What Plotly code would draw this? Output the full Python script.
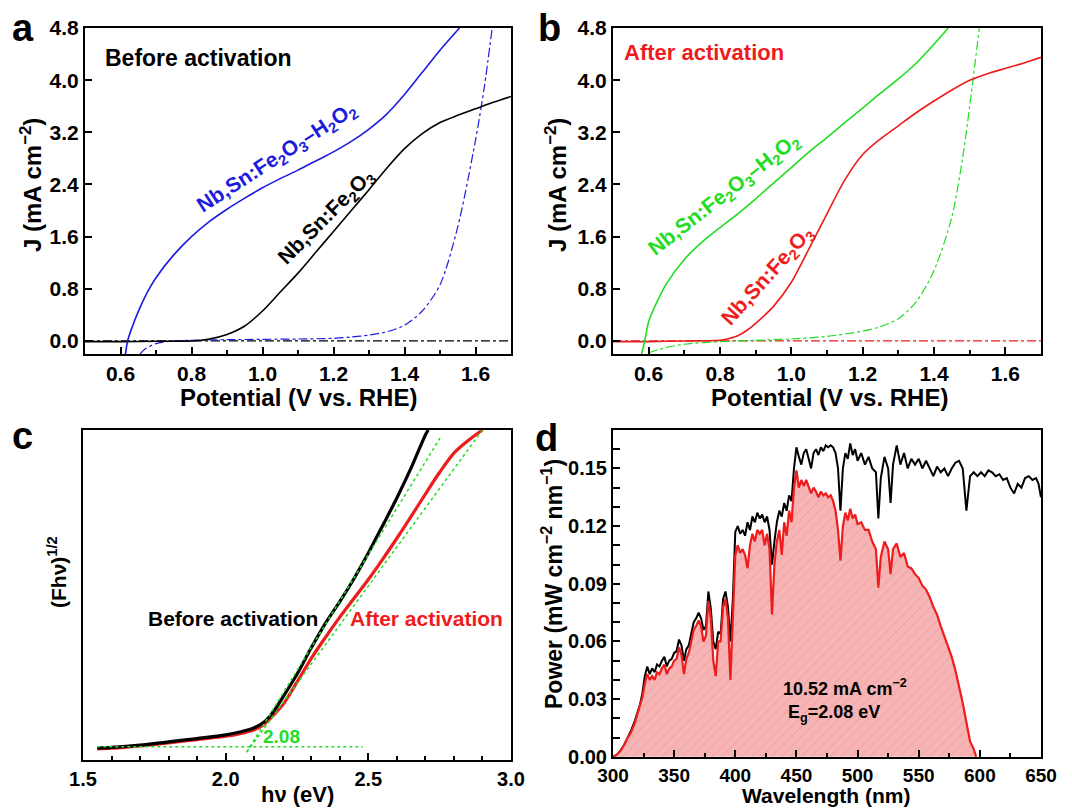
import plotly.graph_objects as go

# ---------------- data ----------------
# (a) J-V before activation
a_fe_x = [0.5, 0.6, 0.7, 0.8, 0.85, 0.9, 0.95, 1.0, 1.05, 1.1, 1.15, 1.2, 1.25, 1.3, 1.35, 1.4, 1.45, 1.5, 1.55, 1.6, 1.65, 1.7]
a_fe_y = [-0.01, -0.01, -0.005, 0.0, 0.03, 0.1, 0.23, 0.46, 0.75, 1.04, 1.36, 1.68, 2.0, 2.32, 2.65, 2.95, 3.18, 3.35, 3.46, 3.56, 3.66, 3.75]
a_h2o2_x = [0.614, 0.62, 0.63, 0.65, 0.675, 0.7, 0.75, 0.8, 0.85, 0.9, 0.95, 1.0, 1.05, 1.1, 1.15, 1.2, 1.25, 1.3, 1.35, 1.4, 1.45, 1.5, 1.555]
a_h2o2_y = [-0.2, 0.0, 0.17, 0.45, 0.74, 0.97, 1.32, 1.6, 1.83, 2.02, 2.19, 2.35, 2.49, 2.62, 2.76, 2.9, 3.06, 3.25, 3.48, 3.78, 4.12, 4.46, 4.8]
a_h2o2_dark_x = [0.655, 0.67, 0.7, 0.75, 0.8, 0.9, 1.0, 1.1, 1.2, 1.25, 1.3, 1.35, 1.4, 1.45, 1.5, 1.55, 1.6, 1.625, 1.647]
a_h2o2_dark_y = [-0.2, -0.12, -0.04, 0.0, 0.01, 0.02, 0.025, 0.03, 0.04, 0.06, 0.09, 0.14, 0.24, 0.46, 0.86, 1.75, 3.08, 3.9, 4.8]
a_fe_dark_x = [0.5, 0.8, 1.1, 1.4, 1.7]
a_fe_dark_y = [0.0, 0.0, 0.0, 0.0, 0.0]

# (b) J-V after activation
b_fe_x = [0.5, 0.6, 0.7, 0.8, 0.82, 0.85, 0.875, 0.9, 0.95, 1.0, 1.05, 1.1, 1.15, 1.2, 1.25, 1.3, 1.35, 1.4, 1.45, 1.5, 1.55, 1.6, 1.65, 1.7]
b_fe_y = [-0.01, -0.01, 0.0, 0.01, 0.03, 0.08, 0.16, 0.27, 0.53, 0.9, 1.42, 1.95, 2.47, 2.86, 3.1, 3.3, 3.5, 3.68, 3.85, 4.0, 4.1, 4.18, 4.26, 4.35]
b_h2o2_x = [0.58, 0.589, 0.6, 0.625, 0.65, 0.7, 0.75, 0.8, 0.85, 0.9, 0.95, 1.0, 1.05, 1.1, 1.15, 1.2, 1.25, 1.3, 1.35, 1.4, 1.44]
b_h2o2_y = [-0.2, 0.0, 0.3, 0.62, 0.88, 1.25, 1.52, 1.74, 1.95, 2.18, 2.42, 2.66, 2.9, 3.12, 3.35, 3.57, 3.8, 4.02, 4.26, 4.55, 4.8]
b_h2o2_dark_x = [0.6, 0.65, 0.7, 0.8, 0.9, 1.0, 1.1, 1.2, 1.25, 1.3, 1.35, 1.4, 1.45, 1.48, 1.5, 1.527]
b_h2o2_dark_y = [-0.18, -0.1, -0.05, -0.01, 0.01, 0.03, 0.07, 0.15, 0.22, 0.34, 0.6, 1.08, 1.9, 2.8, 3.6, 4.8]
b_fe_dark_x = [0.5, 0.8, 1.1, 1.4, 1.7]
b_fe_dark_y = [0.0, 0.0, 0.0, 0.0, 0.0]

# (c) Tauc plot
c_before_x = [1.55, 1.6, 1.7, 1.8, 1.9, 2.0, 2.05, 2.1, 2.13, 2.15, 2.17, 2.2, 2.25, 2.3, 2.35, 2.4, 2.45, 2.5, 2.55, 2.6, 2.65, 2.7, 2.71]
c_before_y = [0.36, 0.38, 0.45, 0.55, 0.65, 0.76, 0.85, 0.98, 1.12, 1.28, 1.5, 1.9, 2.6, 3.4, 4.15, 4.8, 5.5, 6.27, 7.1, 7.94, 8.85, 9.85, 10.0]
c_after_x = [1.55, 1.6, 1.7, 1.8, 1.9, 2.0, 2.05, 2.1, 2.13, 2.15, 2.17, 2.2, 2.25, 2.3, 2.35, 2.4, 2.45, 2.5, 2.55, 2.6, 2.65, 2.7, 2.75, 2.8, 2.85, 2.9]
c_after_y = [0.34, 0.36, 0.43, 0.52, 0.62, 0.72, 0.8, 0.92, 1.05, 1.2, 1.38, 1.67, 2.36, 3.08, 3.72, 4.33, 4.9, 5.47, 6.08, 6.72, 7.38, 8.06, 8.72, 9.3, 9.68, 10.0]
c_base_x = [1.55, 2.48]
c_base_y = [0.4, 0.4]
c_fit1_x = [2.074, 2.751]
c_fit1_y = [0.24, 9.75]
c_fit2_x = [2.074, 2.9]
c_fit2_y = [0.24, 10.0]

# (d) AM 1.5G spectrum and absorbed part
d_sun_wl = [300, 303, 306, 309, 312, 315, 318, 320, 322, 324, 326, 328, 330, 332, 334, 336, 338, 340, 342, 344,
            346, 348, 350, 352, 354, 356, 358, 360, 362, 364, 366, 368, 370, 372, 374, 376, 378, 380, 382, 384,
            386, 388, 390, 392, 394, 396, 398, 400, 402, 404, 406, 408, 410, 412, 414, 416, 418, 420, 422, 424,
            426, 428, 430, 432, 434, 436, 438, 440, 442, 444, 446, 448, 450, 452, 454, 456, 458, 460, 462, 464,
            466, 468, 470, 472, 474, 476, 478, 480, 482, 484, 486, 488, 490, 492, 494, 496, 498, 500, 503, 506,
            509, 512, 515, 517, 519, 522, 525, 527, 529, 532, 535, 538, 541, 544, 547, 550, 553, 556, 559, 562,
            565, 568, 571, 574, 577, 580, 583, 586, 589, 592, 595, 598, 601, 604, 607, 610, 613, 616, 619, 622,
            625, 628, 631, 634, 637, 640, 643, 646, 648, 650]
d_sun_p = [0.000, 0.001, 0.003, 0.006, 0.010, 0.014, 0.019, 0.023, 0.027, 0.033, 0.042, 0.047, 0.043, 0.046, 0.044, 0.048, 0.047, 0.050, 0.052, 0.047,
           0.050, 0.051, 0.054, 0.055, 0.061, 0.058, 0.050, 0.056, 0.058, 0.064, 0.070, 0.072, 0.075, 0.072, 0.066, 0.068, 0.086, 0.077, 0.060, 0.056,
           0.065, 0.064, 0.082, 0.086, 0.078, 0.060, 0.082, 0.117, 0.120, 0.116, 0.118, 0.115, 0.122, 0.118, 0.125, 0.122, 0.127, 0.124, 0.126, 0.122,
           0.125, 0.118, 0.100, 0.112, 0.122, 0.128, 0.125, 0.132, 0.128, 0.136, 0.133, 0.150, 0.161, 0.156, 0.152, 0.158, 0.160, 0.155, 0.150, 0.158,
           0.160, 0.157, 0.161, 0.159, 0.162, 0.161, 0.162, 0.161, 0.158, 0.150, 0.128, 0.150, 0.158, 0.155, 0.163, 0.157, 0.160, 0.154, 0.158, 0.152,
           0.156, 0.150, 0.148, 0.124, 0.145, 0.156, 0.150, 0.132, 0.152, 0.162, 0.152, 0.158, 0.150, 0.155, 0.152, 0.155, 0.150, 0.154, 0.150, 0.146,
           0.151, 0.148, 0.150, 0.146, 0.150, 0.153, 0.154, 0.150, 0.128, 0.146, 0.148, 0.146, 0.148, 0.146, 0.149, 0.148, 0.146, 0.147, 0.144, 0.145,
           0.140, 0.137, 0.142, 0.140, 0.145, 0.146, 0.144, 0.145, 0.142, 0.135]
d_abs_wl = [300, 303, 306, 309, 312, 315, 318, 320, 322, 324, 326, 328, 330, 332, 334, 336, 338, 340, 342, 344,
            346, 348, 350, 352, 354, 356, 358, 360, 362, 364, 366, 368, 370, 372, 374, 376, 378, 380, 382, 384,
            386, 388, 390, 392, 394, 396, 398, 400, 402, 404, 406, 408, 410, 412, 414, 416, 418, 420, 422, 424,
            426, 428, 430, 432, 434, 436, 438, 440, 442, 444, 446, 448, 450, 452, 454, 456, 458, 460, 462, 464,
            466, 468, 470, 472, 474, 476, 478, 480, 482, 484, 486, 488, 490, 492, 494, 496, 498, 500, 503, 506,
            509, 512, 515, 517, 519, 522, 525, 527, 529, 532, 535, 538, 541, 544, 547, 550, 553, 556, 559, 562,
            565, 568, 571, 574, 577, 580, 583, 586, 589, 592, 595, 597]
d_abs_p = [0.000, 0.001, 0.003, 0.006, 0.010, 0.013, 0.018, 0.022, 0.026, 0.031, 0.038, 0.043, 0.040, 0.042, 0.040, 0.044, 0.043, 0.046, 0.048, 0.043,
           0.046, 0.047, 0.050, 0.051, 0.057, 0.053, 0.043, 0.051, 0.054, 0.060, 0.066, 0.068, 0.071, 0.068, 0.060, 0.063, 0.081, 0.072, 0.050, 0.042,
           0.060, 0.060, 0.078, 0.082, 0.072, 0.040, 0.075, 0.105, 0.110, 0.106, 0.108, 0.105, 0.098, 0.110, 0.116, 0.112, 0.118, 0.116, 0.118, 0.110,
           0.116, 0.108, 0.074, 0.100, 0.112, 0.118, 0.105, 0.122, 0.115, 0.128, 0.122, 0.140, 0.149, 0.140, 0.144, 0.141, 0.144, 0.140, 0.137, 0.140,
           0.138, 0.135, 0.138, 0.136, 0.137, 0.135, 0.136, 0.133, 0.128, 0.118, 0.102, 0.120, 0.127, 0.123, 0.129, 0.124, 0.126, 0.121, 0.122, 0.118,
           0.118, 0.112, 0.108, 0.088, 0.104, 0.112, 0.108, 0.095, 0.108, 0.111, 0.104, 0.106, 0.099, 0.098, 0.095, 0.093, 0.089, 0.087, 0.083, 0.078,
           0.074, 0.068, 0.063, 0.058, 0.052, 0.045, 0.037, 0.028, 0.018, 0.008, 0.004, 0.000]

# ---------------- style ----------------
W, H = 1072, 809
FONT = "Liberation Sans, Arial, sans-serif"
BLUE = "#1c1ce0"
GREEN = "#22dd22"
RED = "#ee1c1c"
BLACK = "#000000"
TITLE_SIZE = 24


def dom_x(p0, p1):
    return [p0 / W, p1 / W]


def dom_y(p_top, p_bot):
    return [1 - p_bot / H, 1 - p_top / H]


def axis(domain, rng, anchor, dtick=None, minor=None, labels=True, fmt=None, tick0=None,
         minor_len=4, tick_size=21):
    d = dict(
        domain=domain, range=rng, anchor=anchor,
        showline=True, linecolor="black", linewidth=2, mirror=True,
        showgrid=False, zeroline=False,
        ticks="inside" if labels or minor else "", ticklen=7, tickwidth=2, tickcolor="black",
        showticklabels=labels,
        tickfont=dict(family=FONT, size=tick_size, color="black", weight="bold"),
    )
    if dtick is not None:
        d["dtick"] = dtick
        d["tickmode"] = "linear"
        d["tick0"] = tick0 if tick0 is not None else 0
    if minor is not None:
        d["minor"] = dict(dtick=minor, ticks="inside", ticklen=minor_len, tickwidth=2, tickcolor="black")
    if fmt:
        d["tickformat"] = fmt
    return d


fig = go.Figure()


def line(x, y, xa, ya, color, width=1.5, dash="solid", smooth=True):
    fig.add_trace(go.Scatter(x=x, y=y, xaxis=xa, yaxis=ya, mode="lines",
                             line=dict(color=color, width=width, dash=dash,
                                       shape="spline" if smooth else "linear",
                                       smoothing=0.8),
                             showlegend=False, hoverinfo="skip"))


# panel a
line(a_fe_dark_x, a_fe_dark_y, "x", "y", BLACK, 1.2, "dashdot", smooth=False)
line(a_h2o2_dark_x, a_h2o2_dark_y, "x", "y", BLUE, 1.2, "dashdot")
line(a_fe_x, a_fe_y, "x", "y", BLACK, 1.6)
line(a_h2o2_x, a_h2o2_y, "x", "y", BLUE, 1.6)

# panel b
line(b_fe_dark_x, b_fe_dark_y, "x2", "y2", RED, 1.2, "dashdot", smooth=False)
line(b_h2o2_dark_x, b_h2o2_dark_y, "x2", "y2", GREEN, 1.2, "dashdot")
line(b_fe_x, b_fe_y, "x2", "y2", RED, 1.6)
line(b_h2o2_x, b_h2o2_y, "x2", "y2", GREEN, 1.6)

# panel c
line(c_after_x, c_after_y, "x3", "y3", RED, 3.2)
line(c_before_x, c_before_y, "x3", "y3", BLACK, 3.2)
line(c_base_x, c_base_y, "x3", "y3", GREEN, 1.5, "dot", smooth=False)
line(c_fit1_x, c_fit1_y, "x3", "y3", GREEN, 1.5, "dot", smooth=False)
line(c_fit2_x, c_fit2_y, "x3", "y3", GREEN, 1.5, "dot", smooth=False)

# panel d
line(d_sun_wl, d_sun_p, "x4", "y4", BLACK, 2.0, smooth=False)
fig.add_trace(go.Scatter(x=d_abs_wl, y=d_abs_p, xaxis="x4", yaxis="y4", mode="lines",
                         line=dict(color=RED, width=2.2), fill="tozeroy",
                         fillcolor="#f7b4b4",
                         fillpattern=dict(shape="/", bgcolor="#f7b4b4", fgcolor="#e99a9a",
                                          size=7, solidity=0.12),
                         showlegend=False, hoverinfo="skip"))

layout = dict(
    width=W, height=H,
    margin=dict(l=0, r=0, t=0, b=0),
    paper_bgcolor="white", plot_bgcolor="white",
    font=dict(family=FONT, color="black"),
    template="none",
    xaxis=axis(dom_x(85, 511), [0.5, 1.7], "y", dtick=0.2, minor=0.1, tick0=0.0, fmt=".1f"),
    yaxis=axis(dom_y(28, 354), [-0.2, 4.8001], "x", dtick=0.8, fmt=".1f"),
    xaxis2=axis(dom_x(613, 1041), [0.5, 1.7], "y2", dtick=0.2, minor=0.1, tick0=0.0, fmt=".1f"),
    yaxis2=axis(dom_y(28, 354), [-0.2, 4.8001], "x2", dtick=0.8, fmt=".1f"),
    xaxis3=axis(dom_x(83, 511), [1.4999, 3.0001], "y3", dtick=0.5, minor=0.1, fmt=".1f", tick0=1.5,
                tick_size=20),
    yaxis3=axis(dom_y(430, 760), [0, 10], "x3", labels=False),
    xaxis4=axis(dom_x(613, 1041), [299.99, 650.01], "y4", dtick=50, minor=25, tick0=300, tick_size=19),
    yaxis4=axis(dom_y(430, 757), [-0.0001, 0.17], "x4", dtick=0.03, minor=0.01, fmt=".2f",
                minor_len=7, tick_size=20),
)
fig.update_layout(**layout)

ann = []


def text(x, y, s, size=20, color="black", xref="paper", yref="paper", angle=0, xanchor="center", yanchor="middle"):
    ann.append(dict(x=x, y=y, text=s, xref=xref, yref=yref, showarrow=False, textangle=angle,
                    xanchor=xanchor, yanchor=yanchor,
                    font=dict(family=FONT, size=size, color=color, weight="bold")))


def ptext(px, py, s, **kw):
    text(px / W, 1 - py / H, s, **kw)


# panel letters
ptext(23, 28, "a", size=38)
ptext(549, 28, "b", size=38)
ptext(22, 436, "c", size=38)
ptext(546, 438, "d", size=38)

# axis titles
ptext(298, 397, "Potential (V vs. RHE)", size=TITLE_SIZE)
ptext(829, 397, "Potential (V vs. RHE)", size=TITLE_SIZE)
ptext(31, 185, "J (mA cm<sup>−2</sup>)", size=TITLE_SIZE, angle=-90)
ptext(556, 185, "J (mA cm<sup>−2</sup>)", size=TITLE_SIZE, angle=-90)
ptext(297, 809, "hν (eV)", size=22, yanchor="bottom")
ptext(57, 572, "(Fhν)<sup>1/2</sup>", size=21, angle=-90)
ptext(826, 809, "Wavelength (nm)", size=21, yanchor="bottom")
ptext(552, 584, "Power (mW cm<sup>−2</sup> nm<sup>−1</sup>)", size=23, angle=-90)

# panel a labels
text(0.551, 4.34, "Before activation", size=23, xref="x", yref="y", xanchor="left")
text(1.04, 2.8, "Nb,Sn:Fe<sub>2</sub>O<sub>3</sub>–H<sub>2</sub>O<sub>2</sub>", size=21, color=BLUE,
     xref="x", yref="y", angle=-33)
text(1.18, 1.9, "Nb,Sn:Fe<sub>2</sub>O<sub>3</sub>", size=21, xref="x", yref="y", angle=-45)

# panel b labels
text(0.525, 4.43, "After activation", size=22, color=RED, xref="x2", yref="y2", xanchor="left")
text(0.811, 2.24, "Nb,Sn:Fe<sub>2</sub>O<sub>3</sub>–H<sub>2</sub>O<sub>2</sub>", size=21, color=GREEN,
     xref="x2", yref="y2", angle=-38)
text(0.934, 1.0, "Nb,Sn:Fe<sub>2</sub>O<sub>3</sub>", size=21, color=RED, xref="x2", yref="y2", angle=-48)

# panel c labels
text(2.33, 4.3, "Before activation", size=21, xref="x3", yref="y3", xanchor="right")
text(2.43, 4.3, "After activation", size=21, color=RED, xref="x3", yref="y3", xanchor="left")
text(2.125, 0.72, "2.08", size=19, color=GREEN, xref="x3", yref="y3", xanchor="left")

# panel d labels
text(490, 0.036, "10.52 mA cm<sup>−2</sup>", size=18, xref="x4", yref="y4")
text(481, 0.0225, "E<sub>g</sub>=2.08 eV", size=18, xref="x4", yref="y4")

fig.update_layout(annotations=ann)
fig.write_html("out.html")
